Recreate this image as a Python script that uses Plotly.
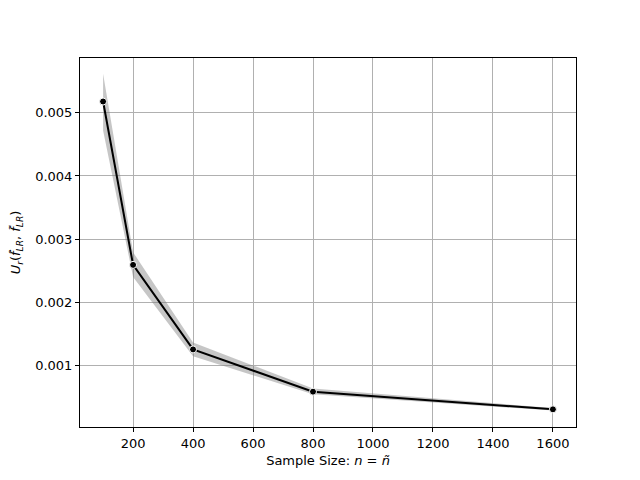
import plotly.graph_objects as go

# sample sizes and mean U_r with confidence band
sizes = [100, 200, 400, 800, 1600]
u_mean = [0.00518, 0.00259, 0.00125, 0.00058, 0.00030]
u_upper = [0.00562, 0.00279, 0.00136, 0.00063, 0.00032]
u_lower = [0.00472, 0.00240, 0.00114, 0.00054, 0.00028]

fig = go.Figure()

# shaded band
fig.add_trace(go.Scatter(x=sizes, y=u_upper, mode='lines', line=dict(width=0),
                         showlegend=False, hoverinfo='skip'))
fig.add_trace(go.Scatter(x=sizes, y=u_lower, mode='lines', line=dict(width=0),
                         fill='tonexty', fillcolor='rgba(128,128,128,0.45)',
                         showlegend=False, hoverinfo='skip'))
# mean line
fig.add_trace(go.Scatter(x=sizes, y=u_mean, mode='lines+markers',
                         line=dict(color='black', width=2),
                         marker=dict(color='black', size=7, line=dict(color='white', width=1)),
                         showlegend=False))

axis_style = dict(showline=True, linecolor='black', linewidth=1, mirror=True,
                  ticks='outside', ticklen=4, tickcolor='black', automargin=False,
                  showgrid=True, gridcolor='#b0b0b0', gridwidth=1, zeroline=False,
                  tickfont=dict(size=13, color='black'))

fig.update_layout(
    width=640, height=480,
    margin=dict(l=72, r=72, t=50, b=61),
    plot_bgcolor='white', paper_bgcolor='white',
    font=dict(family='DejaVu Sans', size=13, color='black'),
    xaxis=dict(range=[23, 1677], tickvals=[200, 400, 600, 800, 1000, 1200, 1400, 1600],
               title=dict(text='Sample Size: <i>n</i> = <i>ñ</i>', standoff=6, font=dict(size=13)),
               **axis_style),
    yaxis=dict(range=[0.00002, 0.00587], tickvals=[0.001, 0.002, 0.003, 0.004, 0.005],
               tickformat='.3f',
               title=dict(text='<i>U<sub>r</sub></i>(<i>f̂</i><sub><i>LR</i></sub>, <i>f̃</i><sub><i>LR</i></sub>)',
                          standoff=16, font=dict(size=13)),
               **axis_style),
)

fig.write_html("out.html")
